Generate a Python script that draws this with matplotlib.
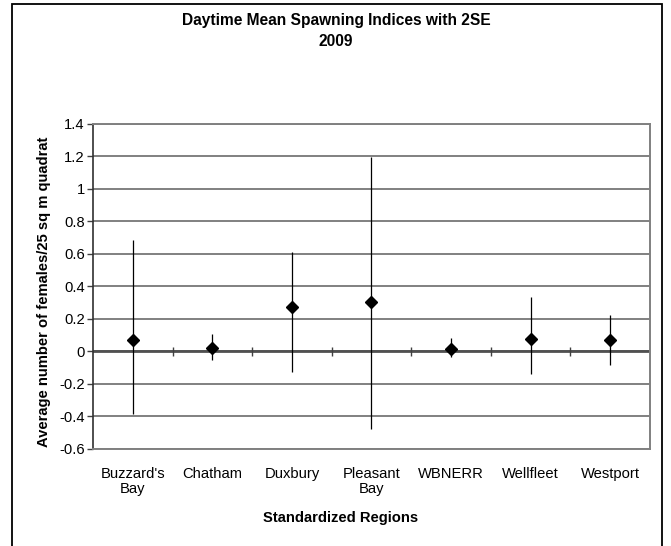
import matplotlib
matplotlib.use('Agg')
import numpy as np
import matplotlib.pyplot as plt
from matplotlib.patches import Rectangle

plt.rcParams['font.family'] = ['Liberation Sans', 'DejaVu Sans']

# daytime mean spawning index per region, with upper/lower 2SE bounds
regions = ["Buzzard's\nBay", "Chatham", "Duxbury", "Pleasant\nBay", "WBNERR", "Wellfleet", "Westport"]
means = [0.07, 0.02, 0.274, 0.307, 0.013, 0.079, 0.071]
upper = [0.684, 0.11, 0.61, 1.195, 0.081, 0.333, 0.225]
lower = [-0.387, -0.052, -0.128, -0.479, -0.036, -0.14, -0.085]
yticks = [-0.6, -0.4, -0.2, 0, 0.2, 0.4, 0.6, 0.8, 1, 1.2, 1.4]

fs = 10.6

fig = plt.figure(figsize=(6.71, 5.46), dpi=100)
ax = fig.add_axes([0.1386, 0.1777, 0.8301, 0.5952])

x = np.arange(len(regions))
means = np.array(means)
yerr = [means - np.array(lower), np.array(upper) - means]

# gridlines and zero axis
for yt in yticks:
    ax.axhline(yt, color='#808080', lw=1.4, zorder=1)
ax.axhline(0, color='#505050', lw=2.0, zorder=2)

ax.errorbar(x, means, yerr=yerr, fmt='none', ecolor='black', elinewidth=0.9, capsize=0, zorder=3)
ax.plot(x, means, 'D', color='black', markersize=6.5, zorder=4)

ax.set_xlim(-0.5, len(regions) - 0.5)
ax.set_ylim(-0.6, 1.4)

ax.set_yticks(yticks)
ax.set_yticklabels(['%g' % v for v in yticks], fontsize=fs)
ax.tick_params(axis='y', direction='out', length=4, width=1, color='#404040', pad=2)

# category boundary marks across the zero line
bounds = np.arange(0.5, len(regions), 1.0)
ax.vlines(bounds, -0.025, 0.025, color='#404040', lw=1.0, zorder=2)
ax.set_xticks([])

for xi, name in zip(x, regions):
    ax.text(xi, -0.055, name, transform=ax.get_xaxis_transform(), ha='center', va='top',
            fontsize=fs, linespacing=1.15)

for side in ['top', 'right', 'bottom']:
    ax.spines[side].set_color('#808080')
    ax.spines[side].set_linewidth(1.4)
ax.spines['left'].set_color('#303030')
ax.spines['left'].set_linewidth(1.2)

ax.set_ylabel('Average number of females/25 sq m quadrat', fontsize=fs, fontweight='bold', labelpad=6)
ax.yaxis.label.set_y(0.485)
fig.text(0.5075, 1 - 518 / 546, 'Standardized Regions', ha='center', va='center', fontsize=fs, fontweight='bold')

fig.text(0.501, 1 - 20 / 546, 'Daytime Mean Spawning Indices with 2SE', ha='center', va='center',
         fontsize=11.2, fontweight='bold')
fig.text(0.501, 1 - 41 / 546, '2009', ha='center', va='center', fontsize=11.2, fontweight='bold')

# chart border
fig.patches.append(Rectangle((12 / 671, -0.05), (662 - 12) / 671, 1.05 - 4.5 / 546,
                             transform=fig.transFigure, fill=False, edgecolor='black', lw=1.3))

fig.savefig('out.png', dpi=100)
